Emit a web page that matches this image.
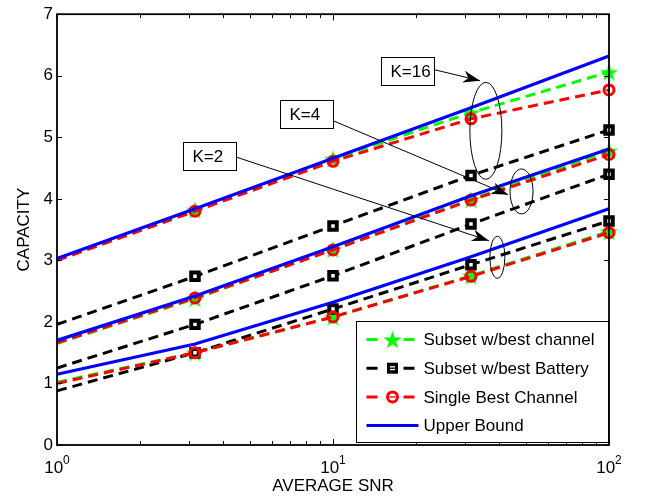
<!DOCTYPE html>
<html>
<head>
<meta charset="utf-8">
<script src="https://cdn.jsdelivr.net/npm/chart.js@4.4.0/dist/chart.umd.min.js"></script>
<style>
  html, body { margin: 0; padding: 0; background: #fff; }
</style>
</head>
<body>
<canvas id="myChart" width="646" height="500"></canvas>
<script>
// average SNR (linear), one point every 5 dB
const snr = [1, 3.162, 10, 31.62, 100];

// K = 16
const bestChannel16 = [3.02, 3.82, 4.65, 5.40, 6.06];
const bestBattery16 = [1.96, 2.74, 3.56, 4.38, 5.12];
const singleBest16 = [3.00, 3.80, 4.61, 5.30, 5.77];
const upperBound16 = [3.03, 3.84, 4.66, 5.48, 6.32];
// K = 4
const bestChannel4 = [1.65, 2.38, 3.18, 3.99, 4.78];
const bestBattery4 = [1.25, 1.96, 2.75, 3.59, 4.40];
const singleBest4 = [1.66, 2.39, 3.17, 3.98, 4.72];
const upperBound4 = [1.70, 2.42, 3.22, 4.05, 4.81];
// K = 2
const bestChannel2 = [1.02, 1.50, 2.08, 2.75, 3.47];
const bestBattery2 = [0.88, 1.50, 2.21, 2.93, 3.64];
const singleBest2 = [1.00, 1.50, 2.08, 2.74, 3.45];
const upperBound2 = [1.15, 1.64, 2.32, 3.06, 3.84];

const legendLabels = ["Subset w/best channel", "Subset w/best Battery", "Single Best Channel", "Upper Bound"];
const xTickLabels = [1, 10, 100];
const yTickMax = 7;

// text boxes with arrows and ellipses, in data coordinates
const notes = [
    { text: "K=16", box: [14.9, 6.31], from: [23.2, 6.10], to: [34.1, 5.92], ellipse: [35.8, 5.105], rx: 16, ry: 48.5 },
    { text: "K=4", box: [6.43, 5.60], from: [10.0, 5.27], to: [43.1, 4.065], ellipse: [48.2, 4.12], rx: 11.5, ry: 22.5 },
    { text: "K=2", box: [2.86, 4.92], from: [4.45, 4.68], to: [36.7, 3.32], ellipse: [39.4, 3.05], rx: 7.5, ry: 21 },
];

const FONT = "'Liberation Sans', Arial, Helvetica, sans-serif";

function makeStar(r, color) {
    const c = document.createElement("canvas");
    const s = Math.ceil(r * 2 + 2);
    c.width = s;
    c.height = s;
    const g = c.getContext("2d");
    g.beginPath();
    for (let i = 0; i < 10; i++) {
        const a = -Math.PI / 2 + (i * Math.PI) / 5;
        const rr = i % 2 ? r * 0.4 : r;
        g.lineTo(s / 2 + rr * Math.cos(a), s / 2 + 1 + rr * Math.sin(a));
    }
    g.closePath();
    g.fillStyle = color;
    g.fill();
    return c;
}
const star = makeStar(9.5, "#00ff00");

// one style per legend entry
const styles = [
    { color: "#00ff00", dash: [10, 6], point: star, radius: 9, fill: "#00ff00", bw: 1, order: 3 },
    { color: "#000000", dash: [10, 6], point: "rect", radius: 5.3, fill: "#ffffff", bw: 4, order: 2 },
    { color: "#ff0000", dash: [10, 6], point: "circle", radius: 5, fill: "rgba(0,0,0,0)", bw: 3, order: 1 },
    { color: "#0000ff", dash: [], point: false, radius: 0, fill: "#0000ff", bw: 1, order: 0 },
];

const groups = [
    [bestChannel16, bestBattery16, singleBest16, upperBound16],
    [bestChannel4, bestBattery4, singleBest4, upperBound4],
    [bestChannel2, bestBattery2, singleBest2, upperBound2],
];

const datasets = [];
groups.forEach((group) => {
    group.forEach((values, k) => {
        const st = styles[k];
        datasets.push({
            label: legendLabels[k],
            data: snr.map((x, i) => ({ x: x, y: values[i] })),
            borderColor: st.color,
            borderWidth: k === 3 ? 3.2 : 3,
            borderDash: st.dash,
            backgroundColor: st.fill,
            pointStyle: st.point,
            pointRadius: (c) => (c.dataIndex === 0 ? 0 : st.radius),
            pointBorderColor: st.color,
            pointBackgroundColor: st.fill,
            pointBorderWidth: st.bw,
            tension: 0,
            clip: false,
            order: st.order,
        });
    });
});

function drawArrowHead(ctx, x0, y0, x1, y1) {
    const L = 17, W = 6, back = 0.7;
    const ang = Math.atan2(y1 - y0, x1 - x0);
    const ux = Math.cos(ang), uy = Math.sin(ang);
    const px = -uy, py = ux;
    ctx.beginPath();
    ctx.moveTo(x1, y1);
    ctx.lineTo(x1 - L * ux + W * px, y1 - L * uy + W * py);
    ctx.lineTo(x1 - back * L * ux, y1 - back * L * uy);
    ctx.lineTo(x1 - L * ux - W * px, y1 - L * uy - W * py);
    ctx.closePath();
    ctx.fill();
}

const matlabLook = {
    id: "matlabLook",
    afterDatasetsDraw(chart) {
        const ctx = chart.ctx;
        const a = chart.chartArea;
        const xs = chart.scales.x;
        const ys = chart.scales.y;
        ctx.save();

        // annotations
        ctx.strokeStyle = "#000";
        ctx.fillStyle = "#000";
        ctx.lineWidth = 1;
        notes.forEach((n) => {
            const fx = xs.getPixelForValue(n.from[0]), fy = ys.getPixelForValue(n.from[1]);
            const tx = xs.getPixelForValue(n.to[0]), ty = ys.getPixelForValue(n.to[1]);
            ctx.beginPath();
            ctx.moveTo(fx, fy);
            ctx.lineTo(tx, ty);
            ctx.stroke();
            drawArrowHead(ctx, fx, fy, tx, ty);

            const ex = xs.getPixelForValue(n.ellipse[0]), ey = ys.getPixelForValue(n.ellipse[1]);
            ctx.beginPath();
            ctx.ellipse(ex, ey, n.rx, n.ry, 0, 0, Math.PI * 2);
            ctx.stroke();

            const bx = Math.round(xs.getPixelForValue(n.box[0])) + 0.5;
            const by = Math.round(ys.getPixelForValue(n.box[1])) + 0.5;
            ctx.fillStyle = "#fff";
            ctx.fillRect(bx, by, 53, 28);
            ctx.strokeRect(bx, by, 53, 28);
            ctx.fillStyle = "#000";
            ctx.font = "17px " + FONT;
            ctx.textAlign = "left";
            ctx.textBaseline = "middle";
            ctx.fillText(n.text, bx + 9, by + 15);
        });

        // axis box
        ctx.lineWidth = 1.8;
        ctx.strokeStyle = "#000";
        ctx.strokeRect(a.left, a.top, a.right - a.left, a.bottom - a.top);

        // inward tick marks
        ctx.lineWidth = 1;
        ctx.beginPath();
        for (let v = 0; v <= yTickMax; v++) {
            const y = Math.round(ys.getPixelForValue(v)) + 0.5;
            ctx.moveTo(a.left, y); ctx.lineTo(a.left + 5, y);
            ctx.moveTo(a.right, y); ctx.lineTo(a.right - 5, y);
        }
        for (let d = 1; d <= 10; d *= 10) {
            for (let m = 1; m <= 10; m++) {
                const v = d * m;
                const len = m === 1 || m === 10 ? 6 : 4;
                const x = Math.round(xs.getPixelForValue(v)) + 0.5;
                ctx.moveTo(x, a.bottom); ctx.lineTo(x, a.bottom - len);
                ctx.moveTo(x, a.top); ctx.lineTo(x, a.top + len);
            }
        }
        ctx.stroke();

        // x tick labels with superscript exponent
        ctx.fillStyle = "#000";
        ctx.textBaseline = "alphabetic";
        ctx.textAlign = "left";
        xTickLabels.forEach((v) => {
            const x = xs.getPixelForValue(v);
            const exp = String(Math.round(Math.log10(v)));
            ctx.font = "17px " + FONT;
            const w1 = ctx.measureText("10").width;
            ctx.font = "12px " + FONT;
            const w2 = ctx.measureText(exp).width;
            const x0 = x - (w1 + w2) / 2;
            ctx.font = "17px " + FONT;
            ctx.fillText("10", x0, a.bottom + 28);
            ctx.font = "12px " + FONT;
            ctx.fillText(exp, x0 + w1, a.bottom + 19);
        });

        // legend box
        const lw = 252, lh = 121;
        const lx = Math.round(a.right - 1 - lw) + 0.5;
        const ly = Math.round(a.bottom - 3 - lh) + 0.5;
        ctx.fillStyle = "#fff";
        ctx.fillRect(lx, ly, lw, lh);
        ctx.lineWidth = 1;
        ctx.strokeStyle = "#000";
        ctx.strokeRect(lx, ly, lw, lh);
        legendLabels.forEach((label, k) => {
            const st = styles[k];
            const cy = ly + 18 + k * 28.7;
            ctx.strokeStyle = st.color;
            ctx.lineWidth = 3;
            ctx.setLineDash(st.dash.length ? [11, 26] : []);
            ctx.beginPath();
            ctx.moveTo(lx + 10, cy);
            ctx.lineTo(lx + 62, cy);
            ctx.stroke();
            ctx.setLineDash([]);
            const mx = lx + 36;
            if (st.point === star) {
                ctx.drawImage(star, mx - star.width / 2, cy - star.height / 2);
            } else if (st.point === "rect") {
                ctx.fillStyle = "#000";
                ctx.fillRect(mx - 5.5, cy - 5.5, 11, 11);
                ctx.fillStyle = "#fff";
                ctx.fillRect(mx - 2.5, cy - 2, 5, 1.3);
                ctx.fillRect(mx - 2.5, cy + 0.7, 5, 1.3);
            } else if (st.point === "circle") {
                ctx.strokeStyle = st.color;
                ctx.lineWidth = 3;
                ctx.beginPath();
                ctx.arc(mx, cy, 5, 0, Math.PI * 2);
                ctx.stroke();
                ctx.fillStyle = st.color;
                ctx.fillRect(mx - 3, cy - 0.7, 6, 1.4);
            }
            ctx.fillStyle = "#000";
            ctx.font = "17px " + FONT;
            ctx.textBaseline = "middle";
            ctx.fillText(label, lx + 67, cy + 1);
        });

        ctx.restore();
    },
};

const ctx = document.getElementById("myChart").getContext("2d");
new window.Chart(ctx, {
    type: "line",
    data: { datasets: datasets },
    options: {
        responsive: false,
        animation: false,
        devicePixelRatio: 1,
        layout: { padding: { top: 11, right: 37, left: 0, bottom: 0 } },
        plugins: {
            legend: { display: false },
            tooltip: { enabled: false },
        },
        scales: {
            x: {
                type: "logarithmic",
                min: 1,
                max: 100,
                grid: { display: false },
                border: { display: false },
                ticks: { display: false },
                title: {
                    display: true,
                    text: "AVERAGE SNR",
                    color: "#000",
                    font: { family: FONT, size: 17 },
                    padding: { top: 3, bottom: 3 },
                },
                afterFit: (s) => { s.height = 55; },
            },
            y: {
                min: 0,
                max: yTickMax,
                grid: { display: false, drawTicks: false },
                border: { display: false },
                ticks: {
                    stepSize: 1,
                    padding: 4,
                    color: "#000",
                    font: { family: FONT, size: 17 },
                },
                title: {
                    display: true,
                    text: "CAPACITY",
                    color: "#000",
                    font: { family: FONT, size: 17 },
                    padding: { top: 14, bottom: 14 },
                },
                afterFit: (s) => { s.width = 57; },
            },
        },
    },
    plugins: [matlabLook],
});
</script>
</body>
</html>
